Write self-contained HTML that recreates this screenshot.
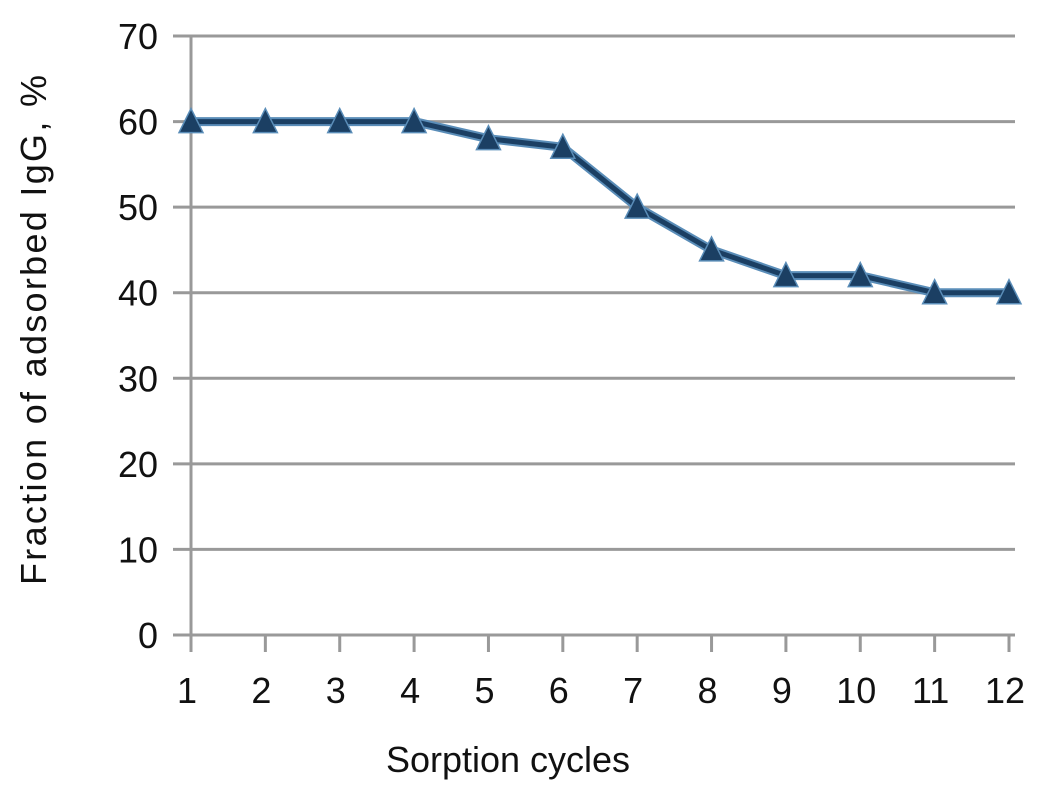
<!DOCTYPE html>
<html><head><meta charset="utf-8"><style>
body{margin:0;background:#fff;}
svg text{font-family:"Liberation Sans",sans-serif;fill:#111;}
</style></head><body>
<svg id="chart" width="1044" height="789" xmlns="http://www.w3.org/2000/svg"></svg>
<script>
const categories=[1,2,3,4,5,6,7,8,9,10,11,12];
const values=[60,60,60,60,58,57,50,45,42,42,40,40];
const yTicks=[0,10,20,30,40,50,60,70];
const NS="http://www.w3.org/2000/svg";
const svg=document.getElementById('chart');
const x0=191,x1=1009,y0=635,y1=36;
const xs=c=>x0+(c-1)*(x1-x0)/11;
const ys=v=>y0-v*(y0-y1)/70;
function el(t,a,p){const e=document.createElementNS(NS,t);for(const k in a)e.setAttribute(k,a[k]);(p||svg).appendChild(e);return e;}
yTicks.forEach(v=>{
 const g=el('line',{x1:173,x2:1015,y1:ys(v),y2:ys(v),stroke:'#999','stroke-width':3});
 
 
 const t=el('text',{x:158,y:ys(v)+13,'text-anchor':'end','font-size':36});
 t.textContent=v;
 
 
});
const ax=el('line',{x1:x0,x2:x0,y1:y1,y2:y0+17,stroke:'#999','stroke-width':3});


categories.forEach(c=>{
 const tk=el('line',{x1:xs(c),x2:xs(c),y1:y0,y2:y0+17,stroke:'#999','stroke-width':3});
 
 
 const t=el('text',{x:xs(c)-4,y:703,'text-anchor':'middle','font-size':36});
 t.textContent=c;
 
 
});
const pts=categories.map((c,i)=>xs(c)+','+ys(values[i])).join(' ');
const ln=el('polyline',{points:pts,fill:'none',stroke:'#5a8db8','stroke-width':9,'stroke-linejoin':'round'});


const ln2=el('polyline',{points:pts,fill:'none',stroke:'#1b3f63','stroke-width':5,'stroke-linejoin':'round'});


categories.forEach((c,i)=>{
 const x=xs(c),y=ys(values[i]);
 const m=el('polygon',{points:`${x},${y-13} ${x+12},${y+11} ${x-12},${y+11}`,fill:'#1b3f63',stroke:'#5a8db8','stroke-width':1.5});
 
 
});
const xt=el('text',{x:508,y:772,'text-anchor':'middle','font-size':36});
xt.textContent='Sorption cycles';


const yt=el('text',{x:0,y:0,'text-anchor':'middle','font-size':36,'textLength':510,transform:'translate(46,330) rotate(-90)'});
yt.textContent='Fraction of adsorbed IgG, %';


</script>
</body></html>
